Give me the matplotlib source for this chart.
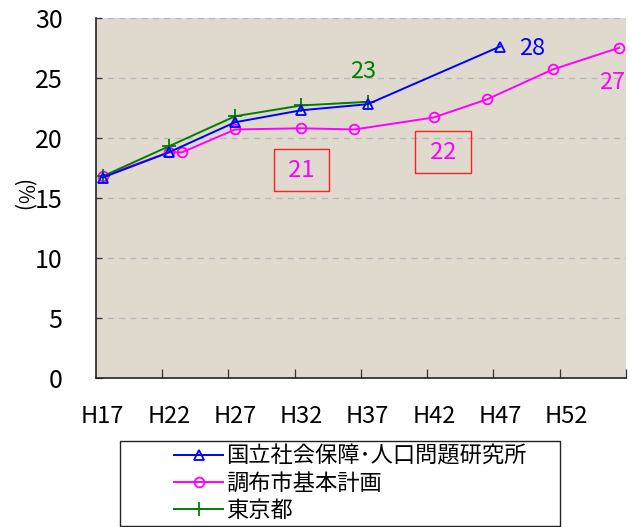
import matplotlib
matplotlib.use("Agg")
import matplotlib.pyplot as plt
from matplotlib.patches import Rectangle

plt.rcParams['font.family'] = ['Noto Sans CJK JP', 'DejaVu Sans']

# 年齢別人口比率 (%) の推計
ipss_year = [17, 22, 27, 32, 37, 47]
ipss_val = [16.7, 18.8, 21.3, 22.3, 22.8, 27.6]

chofu_year = [17, 22, 23, 27, 32, 36, 42, 46, 51, 56]
chofu_val = [16.8, 18.8, 18.8, 20.7, 20.8, 20.7, 21.7, 23.2, 25.7, 27.5]

tokyo_year = [17, 22, 27, 32, 37]
tokyo_val = [16.8, 19.3, 21.8, 22.7, 23.0]

tick_years = [17, 22, 27, 32, 37, 42, 47, 52]
tick_labels = ['H17', 'H22', 'H27', 'H32', 'H37', 'H42', 'H47', 'H52']

series_names = ['国立社会保障･人口問題研究所', '調布市基本計画', '東京都']

fig = plt.figure(figsize=(6.32, 5.27), dpi=100)
ax = fig.add_axes([0.1519, 0.2822, 0.8383, 0.6842])
ax.set_facecolor('#E0D9CD')

l1, = ax.plot(ipss_year, ipss_val, color='#0000FF', lw=1.4, marker='^',
              ms=7.5, mfc='none', mec='#0000FF', mew=1.3, zorder=4)
l2, = ax.plot(chofu_year, chofu_val, color='#FF00FF', lw=1.4, marker='o',
              ms=7, mfc='none', mec='#FF00FF', mew=1.3, zorder=3)
l3, = ax.plot(tokyo_year, tokyo_val, color='#008000', lw=1.4, marker='+',
              ms=10, mew=1.3, zorder=3)

ax.set_xlim(16.5, 56.5)
ax.set_ylim(0, 30)

# category boundaries carry the tick marks, labels sit on the years
ax.set_xticks([y - 0.5 for y in tick_years[1:]] + [56.5])
ax.set_xticklabels([])
ax.tick_params(axis='x', direction='in', length=6.5, width=0.9, color='#333333')
for yr, lab in zip(tick_years, tick_labels):
    ax.text(yr, -3.2, lab, ha='center', va='center', fontsize=17,
            transform=ax.transData, clip_on=False)

ax.set_yticks(range(0, 31, 5))
ax.tick_params(axis='y', direction='in', length=4, width=0.9, pad=24,
               labelsize=18, color='#333333')
for lab in ax.get_yticklabels():
    lab.set_horizontalalignment('right')

ax.grid(axis='y', color='#B4B9BE', linestyle=(0, (5, 4)), linewidth=0.9)
ax.set_axisbelow(True)
for side in ['top', 'right']:
    ax.spines[side].set_visible(False)
for side in ['left', 'bottom']:
    ax.spines[side].set_linewidth(1.2)
    ax.spines[side].set_color('#222222')

fig.text(22 / 632, 1 - 196 / 527, '(%)', rotation=270, ha='center',
         va='center', fontsize=15)

# value labels
ax.text(36.7, 25.5, '23', color='#008000', fontsize=17, ha='center', va='center')
ax.text(49.4, 27.4, '28', color='#0000FF', fontsize=17, ha='center', va='center')
ax.text(55.5, 24.6, '27', color='#FF00FF', fontsize=17, ha='center', va='center')
box = dict(boxstyle='square,pad=0.4', fc='none', ec='#FF2020', lw=1.0)
ax.text(32.0, 17.3, ' 21 ', color='#FF00FF', fontsize=17, ha='center',
        va='center', bbox=box)
ax.text(42.7, 18.8, ' 22 ', color='#FF00FF', fontsize=17, ha='center',
        va='center', bbox=box)

# legend with its own frame below the plot
fig.patches.append(Rectangle((120 / 632, 1 - 526 / 527), 440 / 632, 85 / 527,
                             transform=fig.transFigure, fill=False,
                             ec='#222222', lw=1.0))
fig.legend([l1, l2, l3], series_names, loc='upper left',
           bbox_to_anchor=(161 / 632, 1 - 431 / 527), frameon=False,
           fontsize=16, handlelength=2.2, handletextpad=0.15,
           labelspacing=0.2, borderpad=0.1)

fig.savefig('out.png', dpi=100)
